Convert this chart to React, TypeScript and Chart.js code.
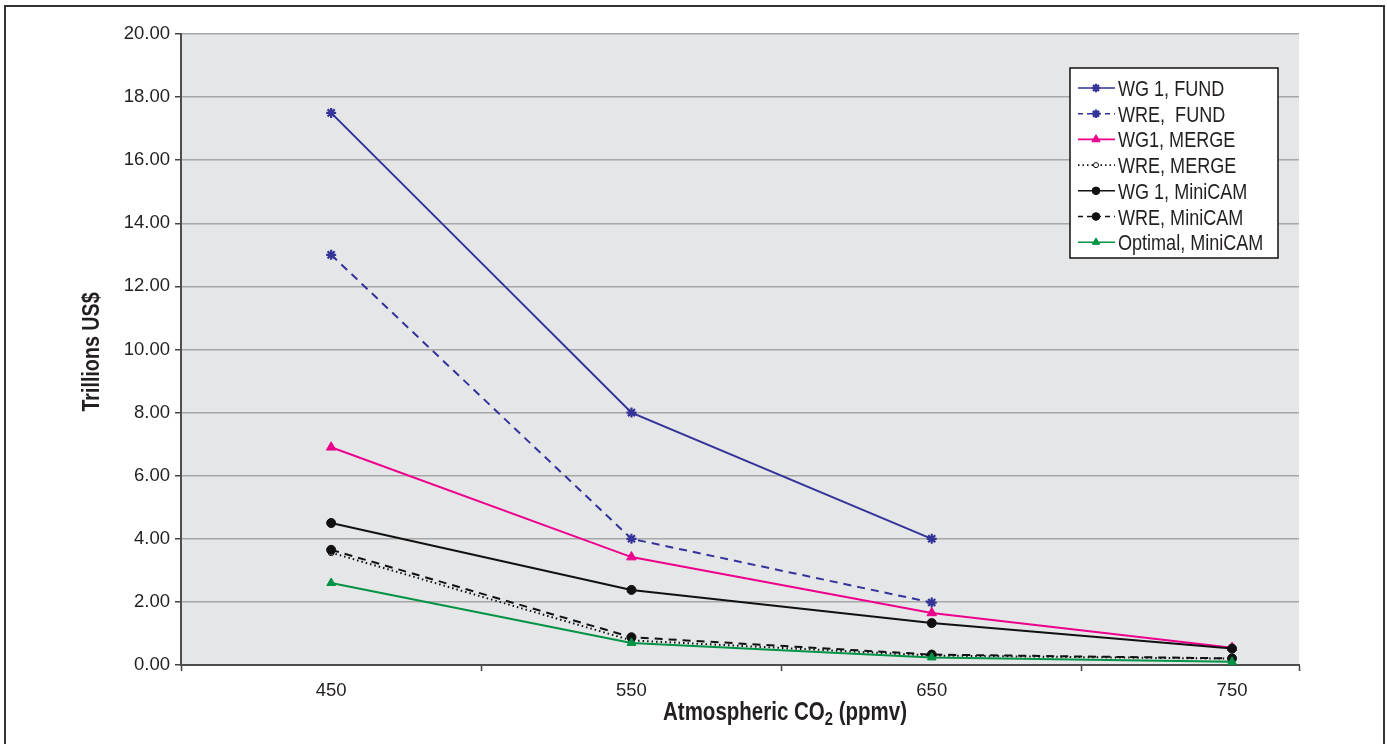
import React, { useEffect, useRef } from 'react';
import { Chart, registerables } from 'chart.js';
import { drawPoint } from 'chart.js/helpers';

Chart.register(...registerables);

// ---- data ----
const co2Levels = [450, 550, 650, 750];
const wg1Fund = [17.5, 8.0, 4.0, null];
const wreFund = [13.0, 4.0, 1.98, null];
const wg1Merge = [6.9, 3.42, 1.65, 0.55];
const wreMerge = [3.56, 0.78, 0.3, 0.2];
const wg1MiniCam = [4.5, 2.38, 1.33, 0.52];
const wreMiniCam = [3.65, 0.88, 0.33, 0.21];
const optimalMiniCam = [2.6, 0.7, 0.24, 0.1];
const seriesLabels = [
  'WG 1, FUND',
  'WRE,  FUND',
  'WG1, MERGE',
  'WRE, MERGE',
  'WG 1, MiniCAM',
  'WRE, MiniCAM',
  'Optimal, MiniCAM',
];
const yTickValues = [0, 2, 4, 6, 8, 10, 12, 14, 16, 18, 20];
const xBoundaryTicks = [400, 500, 600, 700];
const yTitle = 'Trillions US$';
const xTitleParts = ['Atmospheric CO', '2', ' (ppmv)'];

const REGULAR = "'Liberation Sans', Arial, sans-serif";
const TEXT = '#231f20';
const X_MAX = 772.3;
const NARROW_SCALE = 0.82;

const toPoints = (vals: (number | null)[]) => vals.map((v, i) => ({ x: co2Levels[i], y: v }));

const styles = [
  { color: '#333399', dash: [], point: 'star', radius: 5, fill: '#333399', pbw: 2.2 },
  { color: '#333399', dash: [8, 6], point: 'star', radius: 5, fill: '#333399', pbw: 2.2 },
  { color: '#ec008c', dash: [], point: 'triangle', radius: 5.5, fill: '#ec008c', pbw: 1 },
  { color: '#111111', dash: [1.5, 3], point: 'circle', radius: 3, fill: '#ffffff', pbw: 1 },
  { color: '#111111', dash: [], point: 'circle', radius: 4.5, fill: '#111111', pbw: 1 },
  { color: '#111111', dash: [8, 6], point: 'circle', radius: 4.5, fill: '#111111', pbw: 1 },
  { color: '#009245', dash: [], point: 'triangle', radius: 5, fill: '#009245', pbw: 1 },
];
const seriesData = [wg1Fund, wreFund, wg1Merge, wreMerge, wg1MiniCam, wreMiniCam, optimalMiniCam];

// draw text horizontally condensed (narrow face substitute)
function narrowText(ctx: any, text: string, x: number, y: number, font: string) {
  ctx.save();
  ctx.font = font;
  ctx.translate(x, y);
  ctx.scale(NARROW_SCALE, 1);
  ctx.fillText(text, 0, 0);
  ctx.restore();
}
function narrowWidth(ctx: any, text: string, font: string) {
  ctx.save();
  ctx.font = font;
  const w = ctx.measureText(text).width * NARROW_SCALE;
  ctx.restore();
  return w;
}

const framePlugin = {
  id: 'frame',
  beforeDraw(chart: any) {
    const { ctx, chartArea } = chart;
    ctx.save();
    ctx.fillStyle = '#ffffff';
    ctx.fillRect(0, 0, chart.width, chart.height);
    ctx.fillStyle = '#e5e6e8';
    ctx.fillRect(chartArea.left, chartArea.top, chartArea.right - chartArea.left, chartArea.bottom - chartArea.top);
    ctx.strokeStyle = '#333333';
    ctx.lineWidth = 2;
    ctx.strokeRect(5, 6, 1379, 770);
    ctx.restore();
  },
  afterDraw(chart: any) {
    const { ctx } = chart;
    ctx.save();
    ctx.fillStyle = TEXT;
    ctx.textAlign = 'left';
    ctx.textBaseline = 'alphabetic';

    // y-axis title
    const yFont = `bold 24px ${REGULAR}`;
    const yw = narrowWidth(ctx, yTitle, yFont);
    ctx.save();
    ctx.translate(99, 352);
    ctx.rotate(-Math.PI / 2);
    narrowText(ctx, yTitle, -yw / 2, 0, yFont);
    ctx.restore();

    // x-axis title with subscript
    const bigFont = `bold 25px ${REGULAR}`;
    const subFont = `bold 18px ${REGULAR}`;
    const w1 = narrowWidth(ctx, xTitleParts[0], bigFont);
    const w2 = narrowWidth(ctx, xTitleParts[1], subFont);
    const w3 = narrowWidth(ctx, xTitleParts[2], bigFont);
    const total = w1 + w2 + w3;
    const baseY = 720;
    let x = 785 - total / 2;
    narrowText(ctx, xTitleParts[0], x, baseY, bigFont);
    x += w1;
    narrowText(ctx, xTitleParts[1], x, baseY + 5, subFont);
    x += w2;
    narrowText(ctx, xTitleParts[2], x, baseY, bigFont);

    // legend
    const bx = 1070, by = 68, bw = 208, bh = 190;
    ctx.fillStyle = '#ffffff';
    ctx.fillRect(bx, by, bw, bh);
    ctx.strokeStyle = '#111111';
    ctx.lineWidth = 1.5;
    ctx.strokeRect(bx, by, bw, bh);
    for (let i = 0; i < seriesLabels.length; i++) {
      const s = styles[i];
      const ry = 88 + i * 25.7;
      ctx.save();
      ctx.strokeStyle = s.color;
      ctx.lineWidth = 1.6;
      ctx.setLineDash(s.dash.length ? [5, 4] : []);
      if (i === 3) ctx.setLineDash([1.5, 3]);
      ctx.beginPath();
      ctx.moveTo(1078, ry);
      ctx.lineTo(1115, ry);
      ctx.stroke();
      ctx.setLineDash([]);
      ctx.fillStyle = s.fill;
      ctx.strokeStyle = s.color;
      ctx.lineWidth = s.pbw;
      drawPoint(ctx, { pointStyle: s.point, radius: s.radius * 0.85, rotation: 0, borderWidth: s.pbw } as any, 1096, ry);
      ctx.restore();
      ctx.fillStyle = TEXT;
      narrowText(ctx, seriesLabels[i], 1118, ry + 8, `22px ${REGULAR}`);
    }
    ctx.restore();
  },
};

export default function App() {
  const ref = useRef<HTMLCanvasElement | null>(null);
  useEffect(() => {
    if (!ref.current) return;
    const datasets = seriesData.map((vals, i) => {
      const s = styles[i];
      return {
        label: seriesLabels[i],
        data: toPoints(vals),
        borderColor: s.color,
        backgroundColor: s.fill,
        borderWidth: 2,
        borderDash: s.dash,
        pointStyle: s.point,
        pointRadius: s.radius,
        pointBorderColor: s.color,
        pointBackgroundColor: s.fill,
        pointBorderWidth: s.pbw,
        spanGaps: false,
        order: seriesData.length - i,
      };
    });
    const chart = new Chart(ref.current, {
      type: 'line',
      data: { datasets } as any,
      plugins: [framePlugin],
      options: {
        animation: false,
        responsive: false,
        devicePixelRatio: 1,
        layout: { padding: { top: 34, right: 88, left: 0, bottom: 0 } },
        plugins: { legend: { display: false }, tooltip: { enabled: false } },
        scales: {
          x: {
            type: 'linear',
            min: 400,
            max: X_MAX,
            afterBuildTicks: (s: any) => {
              const vals = [...xBoundaryTicks, ...co2Levels, X_MAX].sort((a, b) => a - b);
              s.ticks = vals.map((v) => ({ value: v }));
            },
            afterFit: (s: any) => {
              s.height = 79;
            },
            ticks: {
              autoSkip: false,
              maxRotation: 0,
              padding: 9,
              color: TEXT,
              font: { family: REGULAR, size: 18.5 },
              callback: (v: any) => (co2Levels.includes(Number(v)) ? String(v) : ''),
            },
            grid: {
              drawOnChartArea: false,
              drawTicks: true,
              tickLength: 6,
              tickWidth: 1.5,
              tickColor: (ctx: any) => (ctx.tick && co2Levels.includes(ctx.tick.value) ? 'rgba(0,0,0,0)' : '#444444'),
            },
            border: { color: '#4d4d4d', width: 2 },
          },
          y: {
            type: 'linear',
            min: 0,
            max: 20,
            afterBuildTicks: (s: any) => {
              s.ticks = yTickValues.map((v) => ({ value: v }));
            },
            afterFit: (s: any) => {
              s.width = 181;
            },
            ticks: {
              padding: 5,
              color: TEXT,
              font: { family: REGULAR, size: 18.5 },
              callback: (v: any) => Number(v).toFixed(2),
            },
            grid: {
              color: '#a6a6a6',
              lineWidth: 1.5,
              drawTicks: true,
              tickLength: 6,
              tickColor: '#444444',
              tickWidth: 1.5,
            },
            border: { color: '#4d4d4d', width: 2 },
          },
        },
      } as any,
    });
    return () => chart.destroy();
  }, []);
  return (
    <div style={{ position: 'fixed', left: 0, top: 0, width: 1387, height: 744 }}>
      <canvas ref={ref} width={1387} height={744} style={{ display: 'block' }} />
    </div>
  );
}
